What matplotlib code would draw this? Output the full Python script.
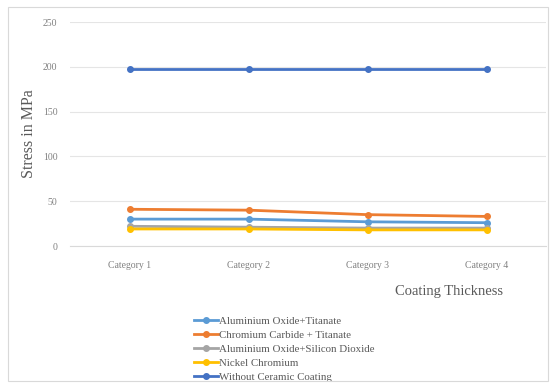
import matplotlib
matplotlib.use("Agg")
import matplotlib.pyplot as plt
from matplotlib.patches import Rectangle

categories = ["Category 1", "Category 2", "Category 3", "Category 4"]
series_names = ["Aluminium Oxide+Titanate", "Chromium Carbide + Titanate",
                "Aluminium Oxide+Silicon Dioxide", "Nickel Chromium",
                "Without Ceramic Coating"]
al_titanate = [30, 30, 27, 26]
cr_carbide = [41, 40, 35, 33]
al_silica = [22, 21, 20, 20]
nickel_chromium = [19, 19, 18, 18]
no_coating = [198, 198, 198, 198]
series_values = [al_titanate, cr_carbide, al_silica, nickel_chromium, no_coating]
colors = ["#5B9BD5", "#ED7D31", "#A5A5A5", "#FFC000", "#4472C4"]
y_ticks = [0, 50, 100, 150, 200, 250]

fig = plt.figure(figsize=(5.5, 3.85), dpi=100)
fig.patches.append(Rectangle((8/550, 1-381/385), 540/550, 374/385, transform=fig.transFigure,
                             fill=False, edgecolor="#D9D9D9", linewidth=0.8))
ax = fig.add_axes([70/550, 1-246/385, 476/550, 224/385])

x = list(range(len(categories)))
for name, vals, c in zip(series_names, series_values, colors):
    ax.plot(x, vals, color=c, marker="o", markersize=4, linewidth=2, label=name)

ax.set_xlim(-0.5, len(categories) - 0.5)
ax.set_ylim(0, 250)
ax.set_yticks(y_ticks)
ax.set_xticks(x)
ax.set_xticklabels(categories)
ax.grid(axis="y", color="#E5E5E5", linewidth=0.8)
ax.set_axisbelow(True)
for s in ["top", "right", "left"]:
    ax.spines[s].set_visible(False)
ax.spines["bottom"].set_color("#D9D9D9")
ax.tick_params(axis="x", length=0, labelsize=7, colors="#808080", pad=11)
ax.tick_params(axis="y", length=0, labelsize=7, colors="#808080", pad=9)
for lab in ax.get_xticklabels() + ax.get_yticklabels():
    lab.set_family("Liberation Serif")

ax.set_ylabel("Stress in MPa", family="Liberation Serif", fontsize=11.5, color="#595959", labelpad=4)
fig.text(449/550, 1-292/385, "Coating Thickness", family="Liberation Serif", fontsize=10.5,
         color="#595959", ha="center", va="center")

leg = ax.legend(loc="upper left", bbox_to_anchor=(190/550, 1-312/385), bbox_transform=fig.transFigure,
                frameon=False, prop={"family": "Liberation Serif", "size": 7.8},
                handlelength=2.2, handletextpad=0.1, labelspacing=0.4, borderaxespad=0)
for t in leg.get_texts():
    t.set_color("#595959")

fig.savefig("out.png", dpi=100)
